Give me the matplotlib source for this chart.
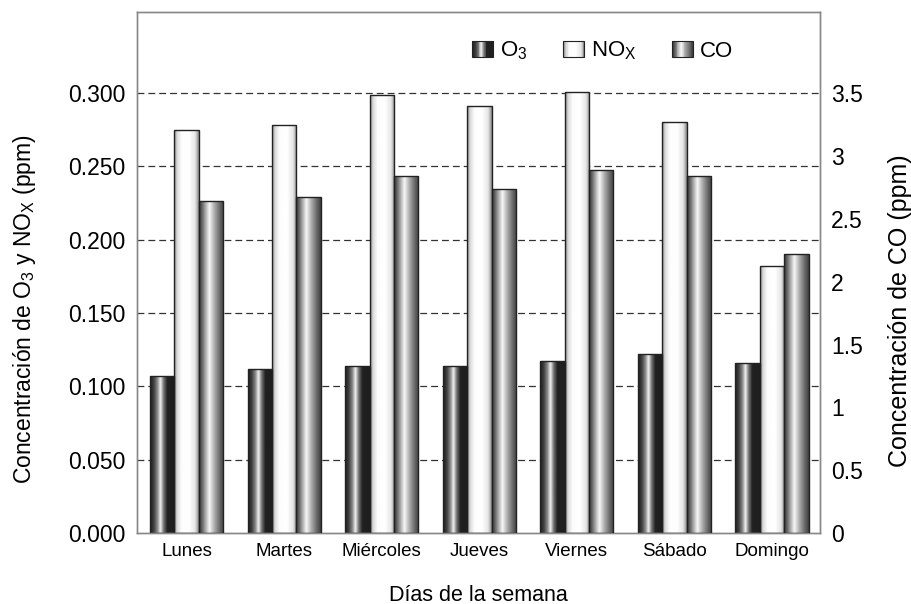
import matplotlib
matplotlib.use("Agg")
import matplotlib.pyplot as plt
import numpy as np
from matplotlib.legend_handler import HandlerBase
from matplotlib.patches import Rectangle

plt.rcParams['font.family'] = ['Liberation Sans', 'DejaVu Sans']
plt.rcParams['mathtext.fontset'] = 'custom'
plt.rcParams['mathtext.rm'] = 'Liberation Sans'
plt.rcParams['mathtext.it'] = 'Liberation Sans'

# data
dias = ['Lunes', 'Martes', 'Miércoles', 'Jueves', 'Viernes', 'Sábado', 'Domingo']
o3 = [0.107, 0.112, 0.114, 0.114, 0.117, 0.122, 0.116]
nox = [0.275, 0.278, 0.299, 0.291, 0.301, 0.280, 0.182]
co = [2.64, 2.67, 2.84, 2.74, 2.89, 2.84, 2.22]
left_ticks = [0.0, 0.05, 0.10, 0.15, 0.20, 0.25, 0.30]
right_ticks = [0, 0.5, 1, 1.5, 2, 2.5, 3, 3.5]
right_labels = ['0', '0.5', '1', '1.5', '2', '2.5', '3', '3.5']

# cylinder-like grey gradients (position, grey level)
grad_o3 = [(0, 0.12), (0.15, 0.25), (0.3, 0.55), (0.42, 0.95), (0.55, 0.45), (0.7, 0.13), (1, 0.12)]
grad_nox = [(0, 0.55), (0.12, 0.85), (0.3, 0.99), (0.6, 1.0), (0.85, 0.9), (1, 0.55)]
grad_co = [(0, 0.2), (0.12, 0.4), (0.3, 0.75), (0.42, 0.97), (0.6, 0.7), (0.85, 0.4), (1, 0.25)]


def ramp(stops, n=64):
    xs = np.linspace(0, 1, n)
    p = [s[0] for s in stops]
    v = [s[1] for s in stops]
    return np.interp(xs, p, v)


def fill_gradient(ax, bars, stops):
    g = ramp(stops)
    img = np.tile(g, (2, 1))
    for b in bars:
        x, w, h = b.get_x(), b.get_width(), b.get_height()
        im = ax.imshow(img, cmap='gray', vmin=0, vmax=1, aspect='auto',
                       extent=[x, x + w, 0, h], zorder=2, interpolation='bilinear')
        im.set_clip_path(b)


class GradHandler(HandlerBase):
    def __init__(self, stops):
        super().__init__()
        self.stops = stops

    def create_artists(self, legend, orig_handle, xdescent, ydescent, width, height, fontsize, trans):
        n = 24
        g = ramp(self.stops, n)
        x0 = -xdescent
        y0 = -ydescent
        arts = []
        for i in range(n):
            arts.append(Rectangle((x0 + i * width / n, y0), width / n + 0.05, height,
                                  facecolor=str(g[i]), edgecolor='none', transform=trans))
        arts.append(Rectangle((x0, y0), width, height, facecolor='none',
                              edgecolor='#222222', linewidth=0.8, transform=trans))
        return arts


fig = plt.figure(figsize=(9.12, 6.04), dpi=100)
ax = fig.add_axes([0.150, 0.1175, 0.749, 0.8625])
ax2 = ax.twinx()

x = np.arange(len(dias))
w = 0.25
b1 = ax.bar(x - w, o3, w, facecolor='none', edgecolor='#222222', linewidth=1.0, zorder=3)
b2 = ax.bar(x, nox, w, facecolor='none', edgecolor='#222222', linewidth=1.0, zorder=3)
b3 = ax2.bar(x + w, co, w, facecolor='none', edgecolor='#222222', linewidth=1.0, zorder=3)
fill_gradient(ax, b1, grad_o3)
fill_gradient(ax, b2, grad_nox)
fill_gradient(ax2, b3, grad_co)

ax.set_xlim(-0.51, 6.49)
ax.set_ylim(0, 0.3553)
ax2.set_ylim(0, 4.145)

ax.set_yticks(left_ticks)
ax.set_yticklabels(['%.3f' % t for t in left_ticks], fontsize=16.5)
ax2.set_yticks(right_ticks)
ax2.set_yticklabels(right_labels, fontsize=16.5)
ax.set_xticks(x)
ax.set_xticklabels(dias, fontsize=13.5)
ax.tick_params(axis='y', length=0, pad=8)
ax2.tick_params(axis='y', length=0, pad=8)
ax.tick_params(axis='x', length=0, pad=7)

for t in left_ticks[1:]:
    ax.axhline(t, color='#333333', linestyle=(0, (5.5, 3.2)), linewidth=0.9, zorder=1)

for a in (ax, ax2):
    for s in a.spines.values():
        s.set_color('#888888')
        s.set_linewidth(1.0)

ax.set_xlabel('Días de la semana', fontsize=15.5, labelpad=18)
ax.set_ylabel('Concentración de O$_3$ y NO$_X$ (ppm)', fontsize=16.5, labelpad=22)
ax2.set_ylabel('Concentración de CO (ppm)', fontsize=18, labelpad=18)
ax.yaxis.label.set_y(0.43)
ax2.yaxis.label.set_y(0.426)

h1 = Rectangle((0, 0), 1, 1)
h2 = Rectangle((0, 0), 1, 1)
h3 = Rectangle((0, 0), 1, 1)
leg = ax2.legend([h1, h2, h3], ['O$_3$', 'NO$_X$', 'CO'],
                 handler_map={h1: GradHandler(grad_o3), h2: GradHandler(grad_nox),
                              h3: GradHandler(grad_co)},
                 loc='upper left', bbox_to_anchor=(0.462, 0.985), ncol=3, frameon=False,
                 fontsize=16, handlelength=0.95, handleheight=0.7, handletextpad=0.3,
                 columnspacing=1.6)

fig.savefig('out.png', dpi=100)
